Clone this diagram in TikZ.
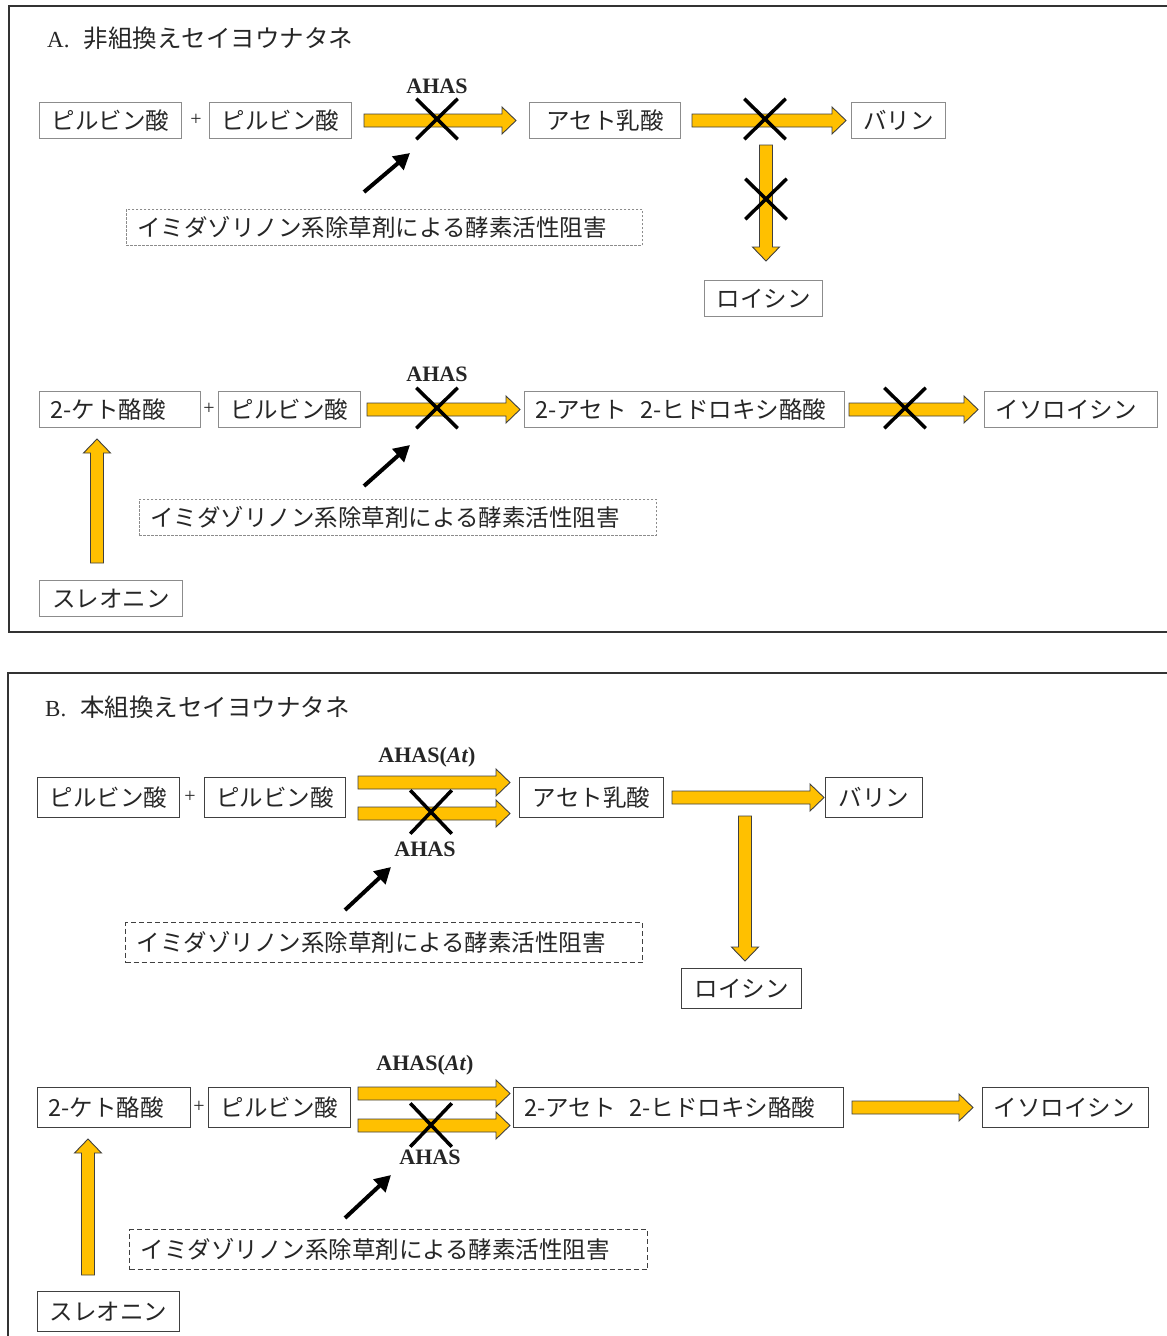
\documentclass[tikz,border=0pt]{standalone}
\usepackage{fontspec}
\setmainfont{Liberation Serif}
\newfontfamily\jp{Noto Sans CJK JP}
\usetikzlibrary{arrows.meta,shapes.misc,calc}
\definecolor{gold}{HTML}{FFC000}
\definecolor{goldedge}{HTML}{404040}
\definecolor{boxAcol}{HTML}{8C8C8C}
\definecolor{boxBcol}{HTML}{404040}
\definecolor{txt}{HTML}{262626}
\definecolor{framecol}{HTML}{333333}
\newcommand{\jpsize}{\jp\fontsize{23.5}{27}\selectfont}
\newcommand{\blockarr}[2]{%
  \coordinate (bahead) at ($(#2)!14pt!(#1)$);
  \path[barrow] ($(#1)!6.5pt!90:(#2)$) -- ($(bahead)!6.5pt!-90:(#1)$)
    -- ($(bahead)!13.5pt!-90:(#1)$) -- (#2) -- ($(bahead)!13.5pt!90:(#1)$)
    -- ($(bahead)!6.5pt!90:(#1)$) -- ($(#1)!6.5pt!-90:(#2)$) -- cycle;}
\tikzset{
  barrow/.style={fill=gold, draw=goldedge, line width=0.9pt, line join=miter},
  boxa/.style={draw=boxAcol, line width=1pt, anchor=north west, minimum height=36pt,
    inner xsep=0pt, inner ysep=0pt, font=\jpsize, text=txt},
  boxb/.style={boxa, draw=boxBcol, minimum height=40pt},
  lbox/.style={align=left, inner xsep=11pt, text width=#1},
  dasha/.style={boxa, dash pattern=on 2.5pt off 1.5pt, draw=boxAcol, line width=0.9pt},
  dashb/.style={boxb, dash pattern=on 5pt off 3pt, draw=boxBcol, line width=1.1pt},
  plus/.style={inner sep=0pt, text=txt, font=\fontsize{20}{22}\selectfont},
  enz/.style={inner sep=0pt, text=txt, font=\bfseries\fontsize{22}{26}\selectfont},
  xmark/.style={draw=black, cross out, line width=3.5pt, minimum width=38pt, minimum height=37pt, inner sep=0pt},
  blk/.style={draw=black, line width=4pt, -{Triangle[length=16pt,width=17pt]}},
  framebox/.style={draw=framecol, line width=1.4pt},
  title/.style={anchor=west, inner sep=0pt, text=txt}
}
\begin{document}
\begin{tikzpicture}[x=1pt,y=-1pt]
\useasboundingbox (0,0) rectangle (1167,1336);
\fill[white] (0,0) rectangle (1167,1336);

% ---------------- Panel A ----------------
\draw[framebox] (9,6) rectangle (1185,632);
\node[title] (tA) at (47,38) {\fontsize{23}{26}\selectfont A.\hspace{14pt}{\jp\fontsize{24.5}{28}\selectfont 非組換えセイヨウナタネ}};

\node[boxa, minimum width=142] (pA1) at (39,102) {ピルビン酸};
\node[plus] (plA1) at (196,120) {+};
\node[boxa, minimum width=142] (pA2) at (209,102) {ピルビン酸};
\node[boxa, minimum width=151] (aclA) at (529,102) {アセト乳酸};
\node[boxa, minimum width=94] (valA) at (851,102) {バリン};
\node[boxa, minimum width=118] (leuA) at (704,280) {ロイシン};
\node[dasha, lbox=494] (dA1) at (126,209) {イミダゾリノン系除草剤による酵素活性阻害};

\coordinate (a1s) at ([xshift=12pt]pA2.east);
\coordinate (a1e) at ([xshift=-13pt]aclA.west);
\blockarr{a1s}{a1e}
\coordinate (a2s) at ([xshift=11pt]aclA.east);
\coordinate (a2e) at ([xshift=-5pt]valA.west);
\blockarr{a2s}{a2e}
\coordinate (a3s) at (766,145);
\coordinate (a3e) at ($(a3s |- leuA.north)+(0,-19)$);
\blockarr{a3s}{a3e}

\node[enz] (eA1) at (437,86) {AHAS};
\node[xmark] (xA1) at (437,119) {};
\node[xmark] (xA2) at (765,119) {};
\node[xmark] (xA3) at (766,199) {};
\coordinate (bA1s) at (364,192);
\coordinate (bA1e) at (410,153);
\draw[blk] (bA1s) -- (bA1e);

\node[boxa, lbox=139] (kA) at (39,391) {2-ケト酪酸};
\node[plus] (plA2) at (209,409) {+};
\node[boxa, minimum width=142] (pA3) at (218,391) {ピルビン酸};
\node[boxa, lbox=298] (ahbA) at (524,391) {2-アセト\hspace{14pt}2-ヒドロキシ酪酸};
\node[boxa, lbox=151] (ileA) at (984,391) {イソロイシン};
\node[boxa, minimum width=143] (thrA) at (39,580) {スレオニン};
\node[dasha, lbox=495] (dA2) at (139,499) {イミダゾリノン系除草剤による酵素活性阻害};

\coordinate (a4s) at ([xshift=6pt]pA3.east);
\coordinate (a4e) at ([xshift=-4pt]ahbA.west);
\blockarr{a4s}{a4e}
\coordinate (a5s) at ([xshift=4pt]ahbA.east);
\coordinate (a5e) at ([xshift=-6pt]ileA.west);
\blockarr{a5s}{a5e}
\coordinate (a6s) at ([yshift=17pt]thrA.north -| 97,0);
\coordinate (a6e) at ([yshift=-11pt]kA.south -| 97,0);
\blockarr{a6s}{a6e}

\node[enz] (eA2) at (437,374) {AHAS};
\node[xmark] (xA4) at (437,408) {};
\node[xmark] (xA5) at (905,408) {};
\coordinate (bA2s) at (364,486);
\coordinate (bA2e) at (410,445);
\draw[blk] (bA2s) -- (bA2e);

% ---------------- Panel B ----------------
\draw[framebox] (8,673) rectangle (1185,1345);
\node[title] (tB) at (45,707) {\fontsize{23}{26}\selectfont B.\hspace{14pt}{\jp\fontsize{24.5}{28}\selectfont 本組換えセイヨウナタネ}};

\node[boxb, minimum width=142] (pB1) at (37,777) {ピルビン酸};
\node[plus] (plB1) at (190,797) {+};
\node[boxb, minimum width=141] (pB2) at (204,777) {ピルビン酸};
\node[boxb, minimum width=144] (aclB) at (519,777) {アセト乳酸};
\node[boxb, minimum width=97] (valB) at (825,777) {バリン};
\node[boxb, minimum width=120] (leuB) at (681,968) {ロイシン};
\node[dashb, lbox=495] (dB1) at (125,922) {イミダゾリノン系除草剤による酵素活性阻害};

\coordinate (b1s) at ([xshift=12pt,yshift=15pt]pB2.east);
\coordinate (b1e) at ([xshift=-9pt,yshift=15pt]aclB.west);
\blockarr{b1s}{b1e}
\coordinate (b2s) at ([xshift=12pt,yshift=-16pt]pB2.east);
\coordinate (b2e) at ([xshift=-9pt,yshift=-16pt]aclB.west);
\blockarr{b2s}{b2e}
\coordinate (b3s) at ([xshift=8pt]aclB.east);
\coordinate (b3e) at ([xshift=-1pt]valB.west);
\blockarr{b3s}{b3e}
\coordinate (b4s) at (745,816);
\coordinate (b4e) at ($(b4s |- leuB.north)+(0,-7)$);
\blockarr{b4s}{b4e}

\node[enz] (eB1) at (427,757) {AHAS(\textit{At})};
\node[enz] (eB2) at (425,849) {AHAS};
\node[xmark, minimum height=40pt] (xB1) at (431,812) {};
\coordinate (bB1s) at (345,910);
\coordinate (bB1e) at (391,867);
\draw[blk] (bB1s) -- (bB1e);

\node[boxb, lbox=131] (kB) at (37,1087) {2-ケト酪酸};
\node[plus] (plB2) at (199,1107) {+};
\node[boxb, minimum width=142] (pB3) at (208,1087) {ピルビン酸};
\node[boxb, lbox=308] (ahbB) at (513,1087) {2-アセト\hspace{14pt}2-ヒドロキシ酪酸};
\node[boxb, lbox=144] (ileB) at (982,1087) {イソロイシン};
\node[boxb, minimum width=142] (thrB) at (37,1291) {スレオニン};
\node[dashb, lbox=496] (dB2) at (129,1229) {イミダゾリノン系除草剤による酵素活性阻害};

\coordinate (b5s) at ([xshift=7pt,yshift=14pt]pB3.east);
\coordinate (b5e) at ([xshift=-3pt,yshift=14pt]ahbB.west);
\blockarr{b5s}{b5e}
\coordinate (b6s) at ([xshift=7pt,yshift=-18pt]pB3.east);
\coordinate (b6e) at ([xshift=-3pt,yshift=-18pt]ahbB.west);
\blockarr{b6s}{b6e}
\coordinate (b7s) at ([xshift=8pt]ahbB.east);
\coordinate (b7e) at ([xshift=-9pt]ileB.west);
\blockarr{b7s}{b7e}
\coordinate (b8s) at ([yshift=16pt]thrB.north -| 88,0);
\coordinate (b8e) at ([yshift=-11pt]kB.south -| 88,0);
\blockarr{b8s}{b8e}

\node[enz] (eB3) at (425,1065) {AHAS(\textit{At})};
\node[enz] (eB4) at (430,1157) {AHAS};
\node[xmark, minimum height=40pt] (xB2) at (431,1125) {};
\coordinate (bB2s) at (345,1218);
\coordinate (bB2e) at (391,1175);
\draw[blk] (bB2s) -- (bB2e);
\end{tikzpicture}
\end{document}
